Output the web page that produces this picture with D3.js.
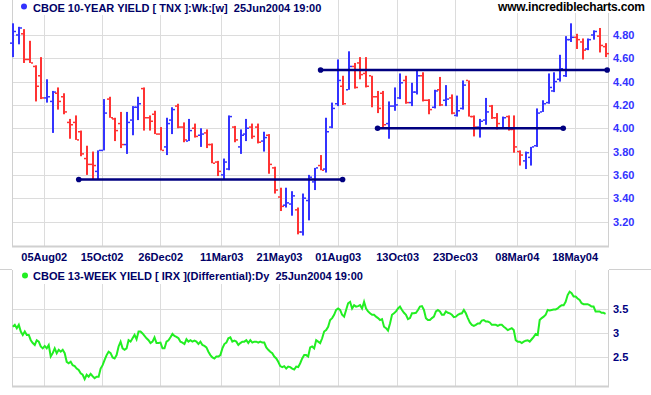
<!DOCTYPE html>
<html>
<head>
<meta charset="utf-8">
<script src="https://cdn.jsdelivr.net/npm/d3@7"></script>
<style>
  body { margin: 0; background: #fff; }
  text { font-family: "Liberation Sans", Arial, sans-serif; font-weight: bold; }
</style>
</head>
<body>
<svg id="chart"></svg>
<script>
// weekly bars, week ending Fri 28Jun2002 .. 25Jun2004
var firstWeek = new Date(2002, 5, 28);
var tnxOpen  = [4.73,4.80,4.81,4.59,4.53,4.45,4.26,4.23,4.30,4.27,4.05,4.05,3.97,3.74,3.69,3.63,3.81,4.25,4.08,4.04,3.86,4.07,4.18,4.34,4.09,4.12,3.95,3.84,4.07,4.19,4.01,3.89,4.00,3.94,3.96,3.86,3.71,3.60,3.65,4.01,3.84,3.95,4.01,4.01,3.89,3.94,3.66,3.41,3.34,3.35,3.30,3.11,3.38,3.54,3.68,3.65,4.01,4.21,4.36,4.33,4.53,4.56,4.47,4.45,4.27,4.30,4.04,4.19,4.26,4.41,4.22,4.31,4.45,4.24,4.18,4.33,4.24,4.26,4.11,4.17,4.41,4.10,4.01,4.07,4.19,4.09,4.00,4.10,3.99,3.80,3.72,3.75,3.85,4.14,4.22,4.32,4.42,4.45,4.76,4.78,4.74,4.68,4.80,4.79,4.70];
var tnxHigh  = [4.90,4.87,4.85,4.75,4.54,4.61,4.42,4.32,4.35,4.30,4.08,4.11,3.98,3.85,3.80,3.81,4.25,4.27,4.09,4.14,4.14,4.19,4.27,4.35,4.11,4.15,4.01,4.09,4.18,4.21,4.05,4.08,4.04,4.00,3.99,3.87,3.72,3.74,4.11,4.02,3.99,4.08,4.04,4.04,3.97,3.95,3.67,3.49,3.49,3.46,3.32,3.44,3.60,3.66,3.77,4.09,4.22,4.59,4.45,4.66,4.56,4.61,4.61,4.45,4.32,4.32,4.23,4.35,4.47,4.45,4.39,4.50,4.48,4.25,4.33,4.44,4.37,4.29,4.28,4.41,4.41,4.11,4.08,4.26,4.20,4.13,4.10,4.11,4.11,3.81,3.80,3.84,4.17,4.24,4.47,4.48,4.63,4.79,4.90,4.81,4.77,4.77,4.84,4.86,4.73];
var tnxLow   = [4.61,4.72,4.56,4.56,4.23,4.25,4.22,3.96,4.16,4.12,3.91,3.90,3.76,3.60,3.56,3.56,3.81,4.09,3.89,3.83,3.78,3.94,4.07,3.98,3.98,3.95,3.81,3.77,3.95,4.00,3.88,3.89,3.92,3.84,3.83,3.70,3.59,3.56,3.64,3.88,3.78,3.89,3.91,3.87,3.80,3.61,3.44,3.29,3.32,3.25,3.09,3.08,3.21,3.47,3.64,3.62,4.00,4.19,4.20,4.33,4.34,4.42,4.35,4.18,4.13,4.00,3.91,4.15,4.25,4.21,4.19,4.29,4.23,4.12,4.17,4.19,4.19,4.12,4.10,4.16,4.10,3.93,3.92,4.03,4.08,3.99,4.00,3.98,3.79,3.68,3.65,3.68,3.84,4.14,4.21,4.31,4.40,4.44,4.74,4.68,4.59,4.67,4.76,4.65,4.61];
var tnxClose = [4.83,4.86,4.59,4.56,4.36,4.26,4.27,4.31,4.23,4.14,4.03,3.90,3.78,3.69,3.68,3.81,4.13,4.09,3.98,3.86,4.05,4.18,4.21,4.09,4.06,3.95,3.81,4.04,4.16,4.01,3.90,3.98,3.93,3.95,3.86,3.70,3.63,3.71,4.10,3.90,3.94,4.00,3.93,3.88,3.92,3.69,3.47,3.33,3.36,3.42,3.11,3.40,3.58,3.66,3.64,3.97,4.17,4.41,4.21,4.53,4.35,4.46,4.36,4.27,4.17,4.03,4.19,4.20,4.39,4.22,4.31,4.45,4.24,4.16,4.32,4.20,4.25,4.13,4.15,4.37,4.10,4.01,4.06,4.14,4.09,4.04,4.09,3.99,3.84,3.77,3.79,3.84,4.13,4.21,4.35,4.40,4.51,4.76,4.78,4.76,4.67,4.76,4.83,4.71,4.64];

// daily 13-week yield, sampled about every two trading days, 28Jun2002 .. 25Jun2004
var irxStart = new Date(2002, 5, 28), irxEnd = new Date(2004, 5, 25);
var irxValues = [
  3.13,3.17,3.10,3.17,3.03,2.96,3.03,2.96,2.96,2.85,2.79,2.75,2.85,2.82,2.72,2.68,2.73,2.68,2.75,2.51,
  2.58,2.68,2.58,2.65,2.61,2.65,2.58,2.40,2.37,2.40,2.33,2.31,2.26,2.23,2.16,2.13,2.04,2.13,2.09,2.15,
  2.10,2.06,2.09,2.09,2.26,2.33,2.44,2.54,2.61,2.58,2.49,2.47,2.54,2.72,2.82,2.68,2.65,2.68,2.85,2.82,
  2.89,2.96,2.87,3.03,3.03,2.99,2.94,2.89,2.85,2.79,2.82,2.91,2.79,2.79,2.80,2.68,2.68,2.82,2.85,2.91,
  2.98,2.94,2.92,2.89,2.82,2.80,2.77,2.87,2.82,2.85,2.82,2.84,2.82,2.77,2.82,2.75,2.73,2.70,2.61,2.54,
  2.49,2.47,2.51,2.51,2.54,2.68,2.77,2.80,2.89,2.91,2.82,2.84,2.82,2.75,2.79,2.82,2.82,2.85,2.79,2.85,
  2.80,2.82,2.82,2.80,2.82,2.80,2.80,2.70,2.65,2.61,2.58,2.51,2.47,2.40,2.31,2.29,2.31,2.26,2.30,2.29,
  2.26,2.24,2.30,2.29,2.37,2.47,2.54,2.54,2.51,2.70,2.72,2.68,2.85,2.82,2.79,2.89,3.03,3.06,3.13,3.27,
  3.31,3.38,3.48,3.51,3.48,3.38,3.34,3.48,3.62,3.65,3.51,3.58,3.55,3.56,3.58,3.51,3.65,3.51,3.45,3.41,
  3.38,3.38,3.34,3.31,3.27,3.29,3.13,3.10,3.05,3.20,3.38,3.41,3.45,3.51,3.55,3.48,3.42,3.38,3.29,3.31,
  3.41,3.41,3.42,3.48,3.55,3.56,3.48,3.31,3.27,3.27,3.31,3.34,3.45,3.48,3.45,3.38,3.38,3.45,3.42,3.41,
  3.38,3.33,3.34,3.38,3.40,3.41,3.48,3.41,3.31,3.22,3.17,3.15,3.17,3.20,3.20,3.26,3.27,3.24,3.24,3.22,
  3.17,3.17,3.17,3.15,3.17,3.17,3.13,3.10,3.06,3.08,3.10,3.06,2.85,2.82,2.82,2.79,2.82,2.84,2.85,2.82,
  2.87,2.92,2.98,2.96,3.27,3.31,3.34,3.38,3.48,3.47,3.48,3.49,3.49,3.51,3.55,3.58,3.58,3.65,3.79,3.86,
  3.83,3.76,3.76,3.72,3.69,3.62,3.60,3.60,3.60,3.58,3.55,3.55,3.45,3.45,3.45,3.42,3.42,3.40
];

// trend lines drawn on the weekly chart
var lineStarts = ["2002-09-17", "2003-07-11", "2003-09-19"];
var lineEnds   = ["2003-08-07", "2004-06-27", "2004-05-04"];
var lineLevels = [3.56, 4.50, 4.00];

var dateTicks = ["2002-08-05","2002-10-15","2002-12-26","2003-03-11","2003-05-21","2003-08-01","2003-10-13","2003-12-23","2004-03-08","2004-05-18"];
var topTicks = [3.2, 3.4, 3.6, 3.8, 4.0, 4.2, 4.4, 4.6, 4.8];
var bottomTicks = [2.5, 3, 3.5];

var svgWidth = 651, svgHeight = 395;
var parse = d3.timeParse("%Y-%m-%d");
var grid = "#dcdcdc";

var svg = d3.select("#chart")
    .attr("width", svgWidth)
    .attr("height", svgHeight);

svg.append("rect").attr("width", svgWidth).attr("height", svgHeight).attr("fill", "#fff");

var x = d3.scaleTime()
    .domain([new Date(2002, 5, 27), new Date(2004, 5, 28)])
    .range([12, 608]);
var yTop = d3.scaleLinear().domain([2.99, 5.10]).range([246, 0]);
var yBot = d3.scaleLinear().domain([1.896, 4.3125]).range([386, 270]);

var tickDates = dateTicks.map(parse);

// gridlines
function vGrid(y0, y1) {
  svg.append("g").selectAll("line")
    .data(tickDates).enter().append("line")
    .attr("x1", function(d){ return Math.round(x(d)) + 0.5; })
    .attr("x2", function(d){ return Math.round(x(d)) + 0.5; })
    .attr("y1", y0).attr("y2", y1)
    .attr("stroke", grid);
}
function hGrid(scale, ticks) {
  svg.append("g").selectAll("line")
    .data(ticks).enter().append("line")
    .attr("x1", 12).attr("x2", 608)
    .attr("y1", function(d){ return Math.round(scale(d)) + 0.5; })
    .attr("y2", function(d){ return Math.round(scale(d)) + 0.5; })
    .attr("stroke", grid);
}
vGrid(0, 246);
hGrid(yTop, topTicks);
vGrid(270, 386);
hGrid(yBot, bottomTicks);

// panel frames
var frame = svg.append("g").attr("stroke", "#d0d0d0");
frame.append("line").attr("x1", 12.5).attr("x2", 12.5).attr("y1", 0).attr("y2", 246);
frame.append("line").attr("x1", 608.5).attr("x2", 608.5).attr("y1", 0).attr("y2", 246);
frame.append("line").attr("x1", 12).attr("x2", 609).attr("y1", 246.5).attr("y2", 246.5).attr("stroke-width", 2);
frame.append("line").attr("x1", 12.5).attr("x2", 12.5).attr("y1", 270).attr("y2", 386);
frame.append("line").attr("x1", 608.5).attr("x2", 608.5).attr("y1", 270).attr("y2", 386);
frame.append("line").attr("x1", 12).attr("x2", 609).attr("y1", 386.5).attr("y2", 386.5).attr("stroke-width", 2);
frame.append("line").attr("x1", 0).attr("x2", 12).attr("y1", 269.5).attr("y2", 269.5);
frame.append("line").attr("x1", 609).attr("x2", 651).attr("y1", 269.5).attr("y2", 269.5);

// title backgrounds
svg.append("rect").attr("x", 13).attr("y", 0).attr("width", 306).attr("height", 15).attr("fill", "#fff");
svg.append("rect").attr("x", 494).attr("y", 0).attr("width", 157).attr("height", 13).attr("fill", "#fff");
svg.append("rect").attr("x", 13).attr("y", 270).attr("width", 322).attr("height", 14).attr("fill", "#fff");

// weekly OHLC bars
var weeks = tnxClose.map(function(c, i){
  return { date: d3.timeDay.offset(firstWeek, 7 * i), o: tnxOpen[i], h: tnxHigh[i], l: tnxLow[i], c: c };
});
var bars = svg.append("g").selectAll("g")
    .data(weeks).enter().append("g")
    .attr("fill", function(d){ return d.c >= d.o ? "#3333ff" : "#ff3333"; });
bars.append("rect")
    .attr("x", function(d){ return Math.round(x(d.date)) - 1; })
    .attr("width", 2)
    .attr("y", function(d){ return yTop(d.h); })
    .attr("height", function(d){ return yTop(d.l) - yTop(d.h); });
bars.append("rect")
    .attr("x", function(d){ return Math.round(x(d.date)) - 3; })
    .attr("width", 2).attr("height", 1.5)
    .attr("y", function(d){ return yTop(d.o) - 0.75; });
bars.append("rect")
    .attr("x", function(d){ return Math.round(x(d.date)) + 1; })
    .attr("width", 2).attr("height", 1.5)
    .attr("y", function(d){ return yTop(d.c) - 0.75; });

// trend lines
var trends = lineLevels.map(function(v, i){
  return { x0: x(parse(lineStarts[i])), x1: x(parse(lineEnds[i])), y: yTop(v) };
});
var tl = svg.append("g").selectAll("g").data(trends).enter().append("g");
tl.append("line")
    .attr("x1", function(d){ return d.x0; }).attr("x2", function(d){ return d.x1; })
    .attr("y1", function(d){ return d.y; }).attr("y2", function(d){ return d.y; })
    .attr("stroke", "#000080").attr("stroke-width", 2.5);
tl.append("circle").attr("cx", function(d){ return d.x0; }).attr("cy", function(d){ return d.y; })
    .attr("r", 2.8).attr("fill", "#000080");
tl.append("circle").attr("cx", function(d){ return d.x1; }).attr("cy", function(d){ return d.y; })
    .attr("r", 2.8).attr("fill", "#000080");

// 13-week yield line
var span = irxEnd - irxStart;
var irx = irxValues.map(function(v, i){
  return { date: new Date(irxStart.getTime() + span * i / (irxValues.length - 1)), v: v };
});
svg.append("path")
    .datum(irx)
    .attr("fill", "none")
    .attr("stroke", "#22ee22")
    .attr("stroke-width", 2)
    .attr("d", d3.line()
        .x(function(d){ return x(d.date); })
        .y(function(d){ return yBot(d.v); }));

// axes
var xAxis = svg.append("g")
    .attr("transform", "translate(0,246)")
    .call(d3.axisBottom(x).tickValues(tickDates).tickSize(0).tickPadding(7)
        .tickFormat(d3.timeFormat("%d%b%y")));
xAxis.select(".domain").remove();
xAxis.selectAll("text").attr("fill", "#000066").attr("font-size", "11px");

var yAxisTop = svg.append("g")
    .attr("transform", "translate(608,0)")
    .call(d3.axisRight(yTop).tickValues(topTicks).tickSize(0).tickPadding(5)
        .tickFormat(d3.format(".2f")));
yAxisTop.select(".domain").remove();
yAxisTop.selectAll("text").attr("fill", "#3333ff").attr("font-size", "11px");

var yAxisBot = svg.append("g")
    .attr("transform", "translate(608,0)")
    .call(d3.axisRight(yBot).tickValues(bottomTicks).tickSize(0).tickPadding(5)
        .tickFormat(function(d){ return d; }));
yAxisBot.select(".domain").remove();
yAxisBot.selectAll("text").attr("fill", "#000080").attr("font-size", "11px");

// titles
svg.append("circle").attr("cx", 24).attr("cy", 6.5).attr("r", 3).attr("fill", "#3333ff");
svg.append("text").attr("x", 33).attr("y", 11.5)
    .attr("fill", "#000066").attr("font-size", "11px")
    .attr("xml:space", "preserve")
    .text("CBOE 10-YEAR YIELD [ TNX ]:Wk:[w]  25Jun2004 19:00");
svg.append("text").attr("x", 498).attr("y", 11)
    .attr("fill", "#000").attr("font-size", "12px")
    .attr("textLength", 147)
    .text("www.incrediblecharts.com");
svg.append("circle").attr("cx", 25).attr("cy", 275.5).attr("r", 3).attr("fill", "#22ee22");
svg.append("text").attr("x", 33).attr("y", 280)
    .attr("fill", "#000066").attr("font-size", "11px")
    .attr("xml:space", "preserve")
    .text("CBOE 13-WEEK YIELD [ IRX ](Differential):Dy  25Jun2004 19:00");
</script>
</body>
</html>
